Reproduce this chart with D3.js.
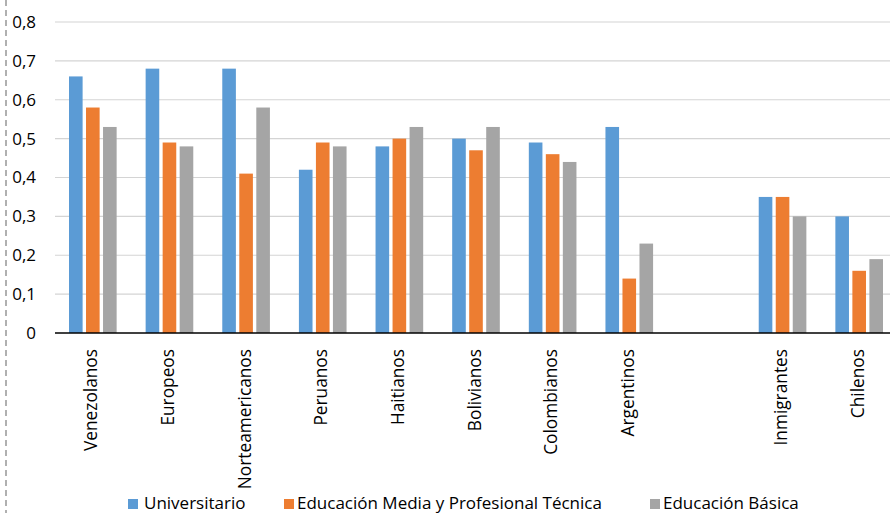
<!DOCTYPE html>
<html><head><meta charset="utf-8">
<script src="https://cdnjs.cloudflare.com/ajax/libs/d3/7.8.5/d3.min.js"></script>
<style>body{margin:0;background:#fff}svg{display:block}</style>
</head><body>
<script>
const categories = ["Venezolanos","Europeos","Norteamericanos","Peruanos","Haitianos","Bolivianos","Colombianos","Argentinos","","Inmigrantes","Chilenos"];
const seriesNames = ["Universitario","Educación Media y Profesional Técnica","Educación Básica"];
const universitario = [0.66,0.68,0.68,0.42,0.48,0.50,0.49,0.53,null,0.35,0.30];
const media = [0.58,0.49,0.41,0.49,0.50,0.47,0.46,0.14,null,0.35,0.16];
const basica = [0.53,0.48,0.58,0.48,0.53,0.53,0.44,0.23,null,0.30,0.19];
const yTicks = [0,0.1,0.2,0.3,0.4,0.5,0.6,0.7,0.8];
const colors = ["#5B9BD5","#ED7D31","#A5A5A5"];

const W=890,H=513;
const font = "'Open Sans', 'Noto Sans', sans-serif";
const svg = d3.select("body").append("svg").attr("width",W).attr("height",H).style("font-family",font);

const x0 = d3.scaleBand().domain(d3.range(categories.length)).range([55,898]).paddingInner(0).paddingOuter(0);
const y = d3.scaleLinear().domain([0,0.8]).range([333,22]);
const x1 = d3.scaleBand().domain([0,1,2]).range([14, x0.bandwidth()-15]).paddingInner(0.2);

// dashed left border
svg.append("line").attr("x1",6).attr("x2",6).attr("y1",0).attr("y2",H)
  .attr("stroke","#b0b0b0").attr("stroke-width",2).attr("stroke-dasharray","6,4");

// gridlines
svg.append("g").selectAll("line").data(yTicks.filter(d=>d>0)).join("line")
  .attr("x1",55).attr("x2",W).attr("y1",d=>y(d)).attr("y2",d=>y(d))
  .attr("stroke","#d4d4d4").attr("stroke-width",1.2);

// y axis labels
const yAxis = d3.axisLeft(y).tickValues(yTicks).tickSize(0).tickPadding(0)
  .tickFormat(d=> d===0 ? "0" : d3.format(".1f")(d).replace(".",","));
const gy = svg.append("g").attr("transform","translate(36,0)").call(yAxis);
gy.select(".domain").remove();
gy.selectAll("text").attr("font-size",17).attr("fill","#000").attr("font-family",font);

// bars
const series = [universitario, media, basica];
const g = svg.append("g");
series.forEach((vals,si)=>{
  g.selectAll(null).data(vals.map((v,i)=>({v,i})).filter(d=>d.v!=null)).join("rect")
    .attr("x",d=>x0(d.i)+x1(si))
    .attr("width",x1.bandwidth())
    .attr("y",d=>y(d.v))
    .attr("height",d=>y(0)-y(d.v))
    .attr("fill",colors[si]);
});

// baseline axis
const xAxis = d3.axisBottom(x0).tickSize(0).tickPadding(0).tickFormat(i=>categories[i]);
const gx = svg.append("g").attr("transform",`translate(0,${y(0)})`).call(xAxis);
gx.select(".domain").remove();
svg.append("line").attr("x1",55).attr("x2",W).attr("y1",y(0)).attr("y2",y(0)).attr("stroke","#000").attr("stroke-width",1.5);
gx.selectAll("text").attr("font-size",17.3).attr("fill","#000").attr("font-family",font)
  .attr("transform","rotate(-90)").attr("text-anchor","end")
  .attr("x",-16).attr("y",-2).attr("dy","0.35em");

// legend
const legSq = [128, 284, 650];
const legTx = [144, 297, 663];
const lg = svg.append("g");
seriesNames.forEach((n,i)=>{
  lg.append("rect").attr("x",legSq[i]).attr("y",499).attr("width",10).attr("height",10).attr("fill",colors[i]);
  lg.append("text").attr("x",legTx[i]).attr("y",509).attr("font-size",17).attr("fill","#000").text(n);
});
</script>
</body></html>
